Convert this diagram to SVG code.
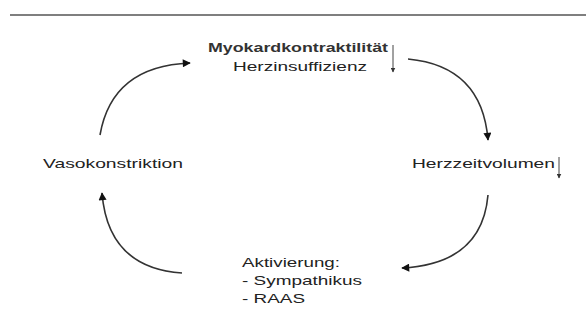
<svg xmlns="http://www.w3.org/2000/svg" width="586" height="325" viewBox="0 0 586 325">
<defs>
<marker id="ah" viewBox="0 0 10 10" refX="9" refY="5" markerWidth="9" markerHeight="8" markerUnits="userSpaceOnUse" orient="auto">
<path d="M0,0 L10,5 L0,10 z" fill="#111"/>
</marker>
<marker id="sh" viewBox="0 0 10 10" refX="9" refY="5" markerWidth="5" markerHeight="5" markerUnits="userSpaceOnUse" orient="auto">
<path d="M0,0 L10,5 L0,10 z" fill="#333"/>
</marker>
</defs>
<style>
text{font-family:"Liberation Sans",Arial,sans-serif;font-size:13px;fill:#222}
.b{font-weight:bold;fill:#333}
.c{fill:none;stroke:#333;stroke-width:1.6}
.s{fill:none;stroke:#444;stroke-width:1}
</style>
<rect width="586" height="325" fill="#fff"/>
<line x1="10" y1="15" x2="586" y2="15" stroke="#000" stroke-width="1.2"/>
<g id="node-myokard">
<text class="b" x="208" y="52" textLength="180" lengthAdjust="spacingAndGlyphs">Myokardkontraktilität</text>
<text x="233" y="71" textLength="134" lengthAdjust="spacingAndGlyphs">Herzinsuffizienz</text>
<line class="s" x1="393" y1="45" x2="393" y2="72" marker-end="url(#sh)"/>
</g>
<g id="node-hzv">
<text x="412" y="168" textLength="143" lengthAdjust="spacingAndGlyphs">Herzzeitvolumen</text>
<line class="s" x1="559" y1="157" x2="559" y2="178" marker-end="url(#sh)"/>
</g>
<g id="node-aktivierung">
<text x="242" y="267" textLength="98" lengthAdjust="spacingAndGlyphs">Aktivierung:</text>
<text x="242" y="285" textLength="120" lengthAdjust="spacingAndGlyphs">- Sympathikus</text>
<text x="242" y="303" textLength="63" lengthAdjust="spacingAndGlyphs">- RAAS</text>
</g>
<g id="node-vaso">
<text x="43" y="168" textLength="140" lengthAdjust="spacingAndGlyphs">Vasokonstriktion</text>
</g>
<g id="connectors">
<path class="c" d="M408,59 Q482,66 488,140" marker-end="url(#ah)"/>
<path class="c" d="M488,195 Q482,264 402,268" marker-end="url(#ah)"/>
<path class="c" d="M182,273 Q108,268 102,193" marker-end="url(#ah)"/>
<path class="c" d="M100,135 Q112,66 190,63" marker-end="url(#ah)"/>
</g>
</svg>
